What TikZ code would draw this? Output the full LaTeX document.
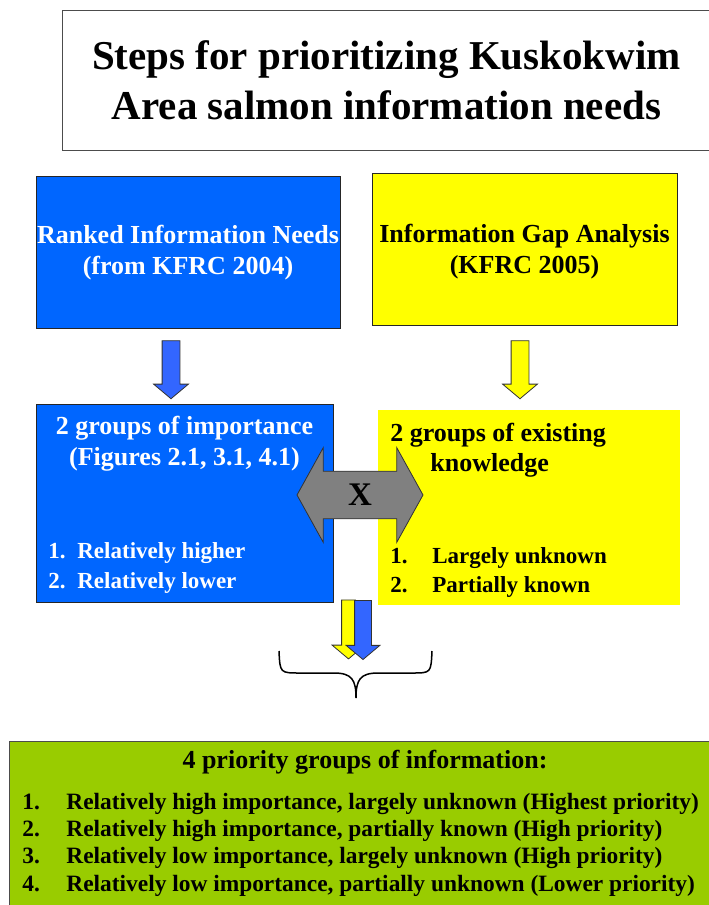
\documentclass[tikz,border=0pt]{standalone}
\usepackage{fontspec}
\setmainfont{Liberation Serif}
\usetikzlibrary{positioning,shapes.arrows}

\definecolor{boxblue}{RGB}{0,102,255}
\definecolor{arrowblue}{RGB}{51,102,255}
\definecolor{boxyellow}{RGB}{255,255,0}
\definecolor{boxgreen}{RGB}{153,204,0}
\definecolor{arrowgray}{RGB}{128,128,128}

\begin{document}
\begin{tikzpicture}[x=1pt,y=-1pt,thick,
    box/.style={rectangle,inner sep=0pt,anchor=north west},
    head text/.style={font=\fontsize{26}{31}\selectfont\bfseries,align=center},
    item text/.style={font=\fontsize{23}{30}\selectfont\bfseries,anchor=west,inner sep=0pt},
    low text/.style={font=\fontsize{23.4}{27}\selectfont\bfseries,anchor=west,inner sep=0pt},
    fat arrow/.style={single arrow,draw=black!80,line width=0.8pt,rotate=-90,
        inner xsep=0pt,inner ysep=8.5pt,
        single arrow head indent=0pt,minimum height=58pt,
        single arrow head extend=8.5pt,single arrow tip angle=100}]

  \useasboundingbox (0,0) rectangle (709,905);

  % title
  \node[box,draw=black!70,line width=1pt,minimum width=648pt,minimum height=140pt,
        font=\fontsize{41}{50}\selectfont\bfseries,align=center] (title) at (62,10)
        {Steps for prioritizing Kuskokwim\\Area salmon information needs};

  % top row
  \node[box,draw=black!85,line width=1pt,fill=boxblue,minimum width=304pt,minimum height=152pt] (ranked) at (36,176) {};
  \node[box,draw=black!85,line width=1pt,fill=boxyellow,minimum width=305pt,minimum height=152pt] (gap) at (372,173) {};
  \node[head text,white] (rankedtext) at (188,252.5) {Ranked Information Needs\\(from KFRC 2004)};
  \node[head text] (gaptext) at (524.5,251.5) {Information Gap Analysis\\(KFRC 2005)};

  % arrows down
  \node[fat arrow,fill=arrowblue] (arrow1) at (171,366) {};
  \node[fat arrow,fill=boxyellow] (arrow2) at (520,366) {};

  % middle row
  \node[box,draw=black!85,line width=1pt,fill=boxblue,minimum width=297pt,minimum height=198pt] (importance) at (36,404) {};
  \node[box,fill=boxyellow,minimum width=302pt,minimum height=195pt] (knowledge) at (378,410) {};

  \node[head text,white] (imptext) at (184.5,443.5) {2 groups of importance\\(Figures 2.1, 3.1, 4.1)};
  \node[item text,white] (imp1) at (48,553) {\makebox[29pt][l]{1.}Relatively higher};
  \node[item text,white] (imp2) at (48,583) {\makebox[29pt][l]{2.}Relatively lower};

  \node[head text,anchor=west,inner sep=0pt] (knowtext) at (390,435) {2 groups of existing};
  \node[head text,anchor=west,inner sep=0pt] (knowtext2) at (430,465) {knowledge};
  \node[item text] (know1) at (390,558) {\makebox[42pt][l]{1.}Largely unknown};
  \node[item text] (know2) at (390,587) {\makebox[42pt][l]{2.}Partially known};

  % cross
  \node[double arrow,draw=black!80,line width=0.8pt,fill=arrowgray,
        inner xsep=0pt,inner ysep=12.6pt,
        double arrow head indent=0pt,minimum height=126pt,
        double arrow head extend=23.5pt,double arrow tip angle=122,
        font=\fontsize{33}{33}\selectfont\bfseries] (cross) at (360,495) {X};

  % merge
  \node[fat arrow,fill=boxyellow,minimum height=59pt,inner ysep=6.5pt,
        single arrow head extend=9.5pt] (merge1) at (348.5,626.5) {};
  \node[fat arrow,fill=arrowblue,minimum height=59pt,inner ysep=8pt,
        single arrow head extend=8.5pt] (merge2) at (363,626.5) {};

  \draw[line width=1.5pt] (279,651) .. controls (280,673) .. (300,673) -- (334,673)
        .. controls (352,673) and (356,680) .. (356,698)
        .. controls (356,680) and (360,673) .. (378,673) -- (412,673)
        .. controls (431,673) .. (432,651);

  % result
  \node[box,draw=black!70,line width=1pt,fill=boxgreen,minimum width=710pt,minimum height=175pt] (result) at (9,741) {};
  \node[head text] (resulttext) at (365,762) {4 priority groups of information:};
  \node[low text] (res1) at (22,804) {\makebox[44pt][l]{1.}Relatively high importance, largely unknown (Highest priority)};
  \node[low text] (res2) at (22,831) {\makebox[44pt][l]{2.}Relatively high importance, partially known (High priority)};
  \node[low text] (res3) at (22,858) {\makebox[44pt][l]{3.}Relatively low importance, largely unknown (High priority)};
  \node[low text] (res4) at (22,886) {\makebox[44pt][l]{4.}Relatively low importance, partially unknown (Lower priority)};
\end{tikzpicture}
\end{document}
